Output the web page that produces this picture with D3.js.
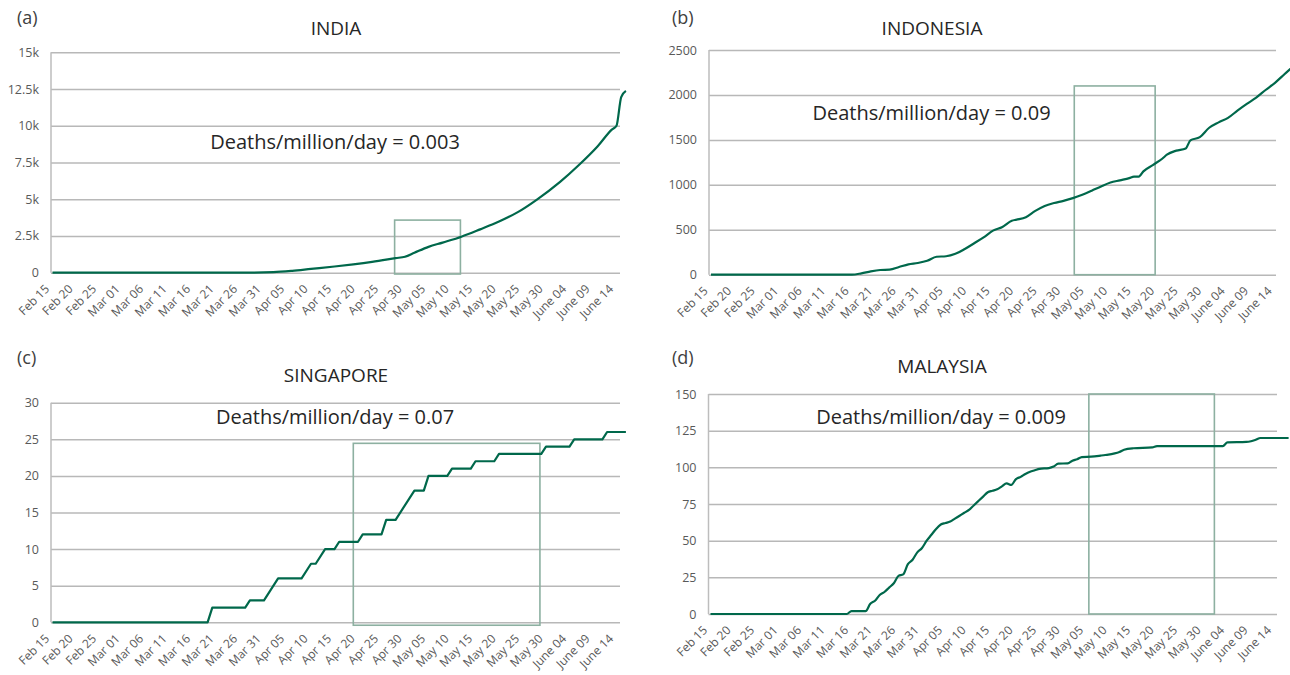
<!DOCTYPE html>
<html><head><meta charset="utf-8">
<script src="https://cdn.jsdelivr.net/npm/d3@7"></script>
<style>
html,body{margin:0;padding:0;background:#fff;}
svg{display:block;font-family:"Open Sans",sans-serif;}
</style></head><body>
<svg id="chart" width="1290" height="675"></svg>
<script>
// ---------- DATA ----------
const startDate = "2020-02-15";
const endDate = "2020-06-16";
const tickLabels = ["Feb 15","Feb 20","Feb 25","Mar 01","Mar 06","Mar 11","Mar 16","Mar 21","Mar 26","Mar 31",
  "Apr 05","Apr 10","Apr 15","Apr 20","Apr 25","Apr 30","May 05","May 10","May 15","May 20","May 25","May 30",
  "June 04","June 09","June 14"];

const indiaDates = ["2020-02-15","2020-03-26","2020-04-02","2020-04-06","2020-04-10","2020-04-15","2020-04-19",
  "2020-04-23","2020-04-28","2020-04-30","2020-05-02","2020-05-05","2020-05-08","2020-05-12","2020-05-16",
  "2020-05-20","2020-05-24","2020-05-28","2020-06-02","2020-06-06","2020-06-10","2020-06-13","2020-06-14",
  "2020-06-15","2020-06-16"];
const indiaDeaths = [0,0,40,130,260,420,570,740,990,1090,1360,1760,2050,2450,2950,3480,4120,4960,6180,7330,
  8610,9740,10000,11950,12370];
const indiaYTicks = [0,2500,5000,7500,10000,12500,15000];
const indiaYLabels = ["0","2.5k","5k","7.5k","10k","12.5k","15k"];

const indonesiaDates = ["2020-02-15","2020-03-16","2020-03-18","2020-03-20","2020-03-22","2020-03-24","2020-03-26",
  "2020-03-28","2020-03-30","2020-04-01","2020-04-03","2020-04-05","2020-04-07","2020-04-09","2020-04-11",
  "2020-04-13","2020-04-15","2020-04-17","2020-04-19","2020-04-20","2020-04-22","2020-04-24","2020-04-26",
  "2020-04-28","2020-04-30","2020-05-02","2020-05-04","2020-05-06","2020-05-08","2020-05-10","2020-05-12",
  "2020-05-14","2020-05-15","2020-05-16","2020-05-17","2020-05-19","2020-05-21","2020-05-22","2020-05-24",
  "2020-05-26","2020-05-27","2020-05-29","2020-05-31","2020-06-02","2020-06-04","2020-06-06","2020-06-08",
  "2020-06-10","2020-06-12","2020-06-14","2020-06-16","2020-06-18"];
const indonesiaDeaths = [0,0,15,37,52,56,85,115,130,155,200,205,232,286,350,415,490,530,600,612,640,710,765,
  798,822,852,890,935,982,1025,1050,1075,1091,1091,1150,1220,1290,1335,1380,1405,1495,1530,1635,1695,1745,
  1825,1900,1970,2055,2135,2230,2325];
const indonesiaYTicks = [0,500,1000,1500,2000,2500];
const indonesiaYLabels = ["0","500","1000","1500","2000","2500"];

const singaporeDates = ["2020-02-15","2020-03-19","2020-03-20","2020-03-27","2020-03-28","2020-03-31","2020-04-03",
  "2020-04-08","2020-04-10","2020-04-11","2020-04-13","2020-04-15","2020-04-16","2020-04-20","2020-04-21",
  "2020-04-25","2020-04-26","2020-04-28","2020-05-02","2020-05-04","2020-05-05","2020-05-09","2020-05-10",
  "2020-05-14","2020-05-15","2020-05-19","2020-05-20","2020-05-29","2020-05-30","2020-06-04","2020-06-05",
  "2020-06-11","2020-06-12","2020-06-16"];
const singaporeDeaths = [0,0,2,2,3,3,6,6,8,8,10,10,11,11,12,12,14,14,18,18,20,20,21,21,22,22,23,23,24,24,25,25,26,26];
const singaporeYTicks = [0,5,10,15,20,25,30];
const singaporeYLabels = ["0","5","10","15","20","25","30"];

const malaysiaDates = ["2020-02-15","2020-03-15","2020-03-16","2020-03-19","2020-03-20","2020-03-21","2020-03-22",
  "2020-03-23","2020-03-24","2020-03-25","2020-03-26","2020-03-27","2020-03-28","2020-03-29","2020-03-30",
  "2020-03-31","2020-04-01","2020-04-02","2020-04-03","2020-04-04","2020-04-05","2020-04-06","2020-04-07",
  "2020-04-08","2020-04-09","2020-04-10","2020-04-11","2020-04-12","2020-04-13","2020-04-14","2020-04-15",
  "2020-04-16","2020-04-17","2020-04-18","2020-04-19","2020-04-20","2020-04-21","2020-04-22","2020-04-23",
  "2020-04-24","2020-04-25","2020-04-27","2020-04-28","2020-04-29","2020-05-01","2020-05-02","2020-05-03",
  "2020-05-04","2020-05-06","2020-05-08","2020-05-09","2020-05-11","2020-05-12","2020-05-13","2020-05-15",
  "2020-05-19","2020-05-20","2020-06-03","2020-06-04","2020-06-08","2020-06-09","2020-06-10","2020-06-11",
  "2020-06-17"];
const malaysiaDeaths = [0,0,2,2,7,9,13,15,18,21,26,27,34,37,42,45,50,54,58,61,62,63,65,67,69,71,74,77,80,83,84,
  85,87,89,88,92,93.5,95.5,97,98,99,99.5,100.5,102.5,102.7,104.5,105.5,107,107.3,108,108.4,109.5,110.5,112,
  113,113.6,114.5,114.5,117,117.3,117.8,118.8,120,120];
const malaysiaYTicks = [0,25,50,75,100,125,150];
const malaysiaYLabels = ["0","25","50","75","100","125","150"];

const panelLetters = ["(a)","(b)","(c)","(d)"];
const panelTitles = ["INDIA","INDONESIA","SINGAPORE","MALAYSIA"];
const annotations = ["Deaths/million/day = 0.003","Deaths/million/day = 0.09","Deaths/million/day = 0.07","Deaths/million/day = 0.009"];
// highlight boxes: [from, to, bottom value, top value]
const boxFrom = ["2020-04-27T19:00Z","2020-05-02T07:00Z","2020-04-19T00:00Z","2020-05-05T12:00Z"];
const boxTo   = ["2020-05-11T19:00Z","2020-05-19T12:00Z","2020-05-28T17:00Z","2020-06-01T05:00Z"];
const boxLow  = [-90, 0, -0.4, 0];
const boxHigh = [3580, 2100, 24.45, 150];

// ---------- LAYOUT ----------
const layout = [
  {axisX:51,  gridR:620,  x0:52.5, top:52.3,  bottom:272.7, ymax:15000, lx:17,  ly:24,  tx:336, ty:35,  ax:335, ay:149,
   dates:indiaDates, vals:indiaDeaths, yt:indiaYTicks, yl:indiaYLabels, curve:d3.curveMonotoneX},
  {axisX:709, gridR:1276, x0:711,  top:50,    bottom:274.7, ymax:2500,  lx:672, ly:24,  tx:932, ty:35,  ax:931.5, ay:120,
   dates:indonesiaDates, vals:indonesiaDeaths, yt:indonesiaYTicks, yl:indonesiaYLabels, curve:d3.curveMonotoneX},
  {axisX:51,  gridR:620,  x0:52.5, top:402.7, bottom:622.3, ymax:30,    lx:17,  ly:364, tx:336, ty:382, ax:335, ay:424,
   dates:singaporeDates, vals:singaporeDeaths, yt:singaporeYTicks, yl:singaporeYLabels, curve:d3.curveLinear},
  {axisX:708.5, gridR:1277, x0:710.5, top:394, bottom:614,  ymax:150,   lx:672, ly:364, tx:942, ty:373, ax:941, ay:424,
   dates:malaysiaDates, vals:malaysiaDeaths, yt:malaysiaYTicks, yl:malaysiaYLabels, curve:d3.curveMonotoneX}
];
const pxPerDay = 4.70;
const lineColor = "#00684b";
const gridColor = "#b8b8b8";
const boxColor = "#8db0a1";

const svg = d3.select("#chart");
const t0 = d3.isoParse(startDate), t1 = d3.isoParse(endDate);
const nDays = d3.utcDay.count(t0, t1);
const tickDates = tickLabels.map((_, i) => d3.utcDay.offset(t0, 5 * i));

layout.forEach((p, i) => {
  const g = svg.append("g");
  const x = d3.scaleUtc().domain([t0, t1]).range([p.x0, p.x0 + nDays * pxPerDay]);
  const y = d3.scaleLinear().domain([0, p.ymax]).range([p.bottom, p.top]);

  // y grid + labels
  const ya = g.append("g").attr("transform", `translate(${p.axisX},0)`)
    .call(d3.axisLeft(y).tickValues(p.yt).tickFormat((d, k) => p.yl[k])
      .tickSize(-(p.gridR - p.axisX)).tickPadding(12));
  ya.select(".domain").remove();
  ya.selectAll(".tick line").attr("stroke", gridColor).attr("stroke-width", 1.5);
  ya.selectAll(".tick text").attr("fill", "#595959").style("font-size", "12.5px")
    .style("font-family", "'Open Sans', sans-serif");

  // vertical axis line
  g.append("line").attr("x1", p.axisX).attr("x2", p.axisX).attr("y1", y(p.ymax)).attr("y2", y(0))
    .attr("stroke", "#bdbdbd").attr("stroke-width", 1.5);

  // x labels
  const xa = g.append("g").attr("transform", `translate(0,${y(0)})`)
    .call(d3.axisBottom(x).tickValues(tickDates).tickFormat((d, k) => tickLabels[k]).tickSize(0));
  xa.select(".domain").remove();
  xa.selectAll(".tick text").attr("x", 0).attr("y", 0).attr("dy", 0)
    .attr("text-anchor", "end").attr("transform", "translate(-3,17) rotate(-45)")
    .attr("fill", "#595959").style("font-size", "12px").style("font-family", "'Open Sans', sans-serif");

  // highlight box
  const bx0 = x(d3.isoParse(boxFrom[i])), bx1 = x(d3.isoParse(boxTo[i]));
  const by0 = y(boxHigh[i]), by1 = y(boxLow[i]);
  g.append("rect").attr("x", bx0).attr("y", by0).attr("width", bx1 - bx0).attr("height", by1 - by0)
    .attr("fill", "none").attr("stroke", boxColor).attr("stroke-width", 1.6);

  // line
  const pts = p.dates.map((d, k) => [d3.isoParse(d), p.vals[k]]);
  g.append("path").datum(pts)
    .attr("d", d3.line().x(d => x(d[0])).y(d => y(d[1])).curve(p.curve))
    .attr("fill", "none").attr("stroke", lineColor).attr("stroke-width", 2.2)
    .attr("stroke-linejoin", "round");

  // texts
  g.append("text").attr("x", p.lx).attr("y", p.ly).text(panelLetters[i])
    .attr("fill", "#404040").style("font-size", "18px");
  g.append("text").attr("x", p.tx).attr("y", p.ty).attr("text-anchor", "middle").text(panelTitles[i])
    .attr("fill", "#262626").style("font-size", "19px");
  g.append("text").attr("x", p.ax).attr("y", p.ay).attr("text-anchor", "middle").text(annotations[i])
    .attr("fill", "#262626").style("font-size", "20px");
});
</script>
</body></html>
